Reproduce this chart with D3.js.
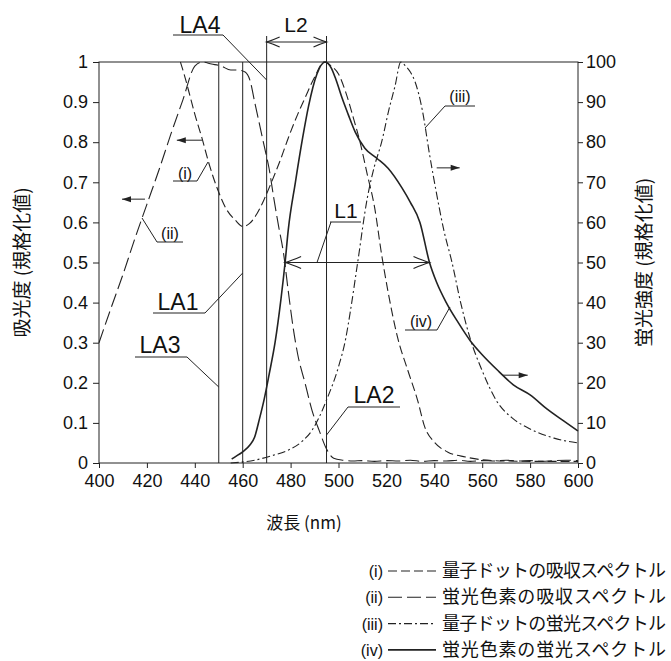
<!DOCTYPE html>
<html><head><meta charset="utf-8">
<script src="https://cdn.jsdelivr.net/npm/d3@7/dist/d3.min.js"></script>
<style>body{margin:0;background:#fff}svg{display:block}</style>
</head><body>
<svg id="c" width="671" height="661"></svg>
<script>
// ---------- data ----------
const xTicks = [400,420,440,460,480,500,520,540,560,580,600];
const yLeftTicks = [0,0.1,0.2,0.3,0.4,0.5,0.6,0.7,0.8,0.9,1];
const yRightTicks = [0,10,20,30,40,50,60,70,80,90,100];

// (i) quantum-dot absorption (left axis)
const wlQdAbs = [434,436,438,440,443,446,450,453,457,460,463,466,469,472,476,479,483,486,490,494,497,500,503,506,509,512,515,518,520.6,524.8,529,533,536,540,545.7,553,560,570,585,600];
const qdAbs   = [1.0,0.96,0.915,0.87,0.81,0.745,0.675,0.635,0.605,0.59,0.598,0.622,0.658,0.70,0.76,0.81,0.87,0.91,0.962,1.0,0.99,0.97,0.925,0.865,0.80,0.72,0.64,0.52,0.43,0.31,0.23,0.157,0.09,0.052,0.027,0.015,0.008,0.005,0.004,0.004];

// (ii) fluorescent dye absorption (left axis)
const wlDyeAbs = [400,405,410,415,420,425,430,435,440,443,447,451,455,458,461,463,465,467,469,471,473,475,477,479,481,483,486,489,492,495,498,502,506,510,515,520,525,530,535,540,545,550,555,560,565,570,575,580,585,590,595,600];
const dyeAbs   = [0.30,0.386,0.47,0.56,0.645,0.73,0.82,0.905,0.99,1.0,0.995,0.99,0.98,0.98,0.975,0.955,0.90,0.845,0.79,0.735,0.66,0.59,0.525,0.43,0.34,0.27,0.20,0.13,0.08,0.035,0.012,0.007,0.005,0.006,0.004,0.006,0.005,0.007,0.004,0.006,0.005,0.007,0.004,0.006,0.005,0.007,0.005,0.006,0.004,0.006,0.007,0.006];

// (iii) quantum-dot fluorescence (right axis)
const wlQdFl = [455,465,472,479,485,489,492,495,500,503,505,508,512,515,518,521,523.6,526,528,530,532,535,538,541,544,547.4,551,555,560,566,573,580,590,600];
const qdFl   = [0,0.7,1.8,3.2,5.5,8.2,11.5,15.7,24,31,38,50,66,74,80,88,94,100,99,97.5,95,88,77,67,58,50,40,31,23,15.5,11,8.5,6.2,5];

// (iv) fluorescent dye fluorescence (right axis)
const wlDyeFl = [455.4,457,460,463,465,467,469,471,473.5,476,477.7,479,482,485,487.5,491,494.4,497,499,501.5,504,507,511,516,520.7,526.5,530,534,538,541,545,550,555,560,567,573,580,587,594,600];
const dyeFl   = [1,1.6,2.8,4.5,6.5,11,16,22,30,41,50,58,70,81,89,97,100,98.5,95.5,91,87,82.5,78.5,76,73.5,68.6,65,60,50,45,40,35,30.5,27,22.8,19.5,17,13.5,10.5,8];

// marker wavelengths and labels
const markerWl = [450,460,470,495];
const markerNames = ["LA3","LA1","LA4","LA2"];
const L1Range = [477.7,538];
const L2Range = [470,495];

const legendKeys = ["(i)","(ii)","(iii)","(iv)"];
const legendTexts = ["量子ドットの吸収スペクトル","蛍光色素の吸収スペクトル","量子ドットの蛍光スペクトル","蛍光色素の蛍光スペクトル"];
const dashes = ["9,4","14,5","8,3,2,3",null];

// ---------- drawing ----------
const svg = d3.select("#c");
const ink = "#222";
const numFont = "'Liberation Sans', Arial, sans-serif";
const jpFont = "'Noto Sans CJK JP', 'Noto Sans', sans-serif";

const x = d3.scaleLinear().domain([400,600]).range([99,578]);
const yL = d3.scaleLinear().domain([0,1]).range([463,62]);
const yR = d3.scaleLinear().domain([0,100]).range([463,62]);

// frame
svg.append("rect").attr("x",x(400)).attr("y",yL(1)).attr("width",x(600)-x(400)).attr("height",yL(0)-yL(1))
  .attr("fill","none").attr("stroke",ink).attr("stroke-width",1);

function styleAxis(g){
  g.select(".domain").remove();
  g.selectAll("line").attr("stroke",ink);
  g.selectAll("text").attr("font-family",numFont).attr("font-size",18).attr("fill","#111");
}
svg.append("g").attr("transform",`translate(${x(400)},0)`)
  .call(d3.axisLeft(yL).tickValues(yLeftTicks).tickSize(6).tickPadding(5).tickFormat(d=>d3.format("")(+d.toFixed(1))))
  .call(styleAxis);
svg.append("g").attr("transform",`translate(${x(600)},0)`)
  .call(d3.axisRight(yR).tickValues(yRightTicks).tickSize(5).tickPadding(3))
  .call(styleAxis);
svg.append("g").attr("transform",`translate(0,${yL(0)})`)
  .call(d3.axisBottom(x).tickValues(xTicks).tickSize(5).tickPadding(6))
  .call(styleAxis);

// axis titles
svg.append("text").attr("transform",`translate(29,${(yL(0)+yL(1))/2}) rotate(-90)`)
  .attr("text-anchor","middle").attr("font-family",jpFont).attr("font-size",19).attr("fill","#111").text("吸光度 (規格化値)");
svg.append("text").attr("transform",`translate(651,${(yL(0)+yL(1))/2}) rotate(-90)`)
  .attr("text-anchor","middle").attr("font-family",jpFont).attr("font-size",19).attr("fill","#111").text("蛍光強度 (規格化値)");
svg.append("text").attr("x",304).attr("y",529).attr("text-anchor","middle")
  .attr("font-family",jpFont).attr("font-size",17).attr("fill","#111").text("波長 (nm)");

// marker vertical lines
markerWl.forEach((w,i)=>{
  const top = (w===L2Range[0]||w===L2Range[1]) ? 36 : yL(1);
  svg.append("line").attr("x1",x(w)).attr("x2",x(w)).attr("y1",top).attr("y2",yL(0))
    .attr("stroke",ink).attr("stroke-width",1);
});

// curves
const zip = (a,b)=>a.map((v,i)=>[v,b[i]]);
const lineL = d3.line().x(d=>x(d[0])).y(d=>yL(d[1])).curve(d3.curveMonotoneX);
const lineR = d3.line().x(d=>x(d[0])).y(d=>yR(d[1])).curve(d3.curveMonotoneX);
const series = [
  {d:lineL(zip(wlQdAbs,qdAbs)), dash:dashes[0], w:1.1},
  {d:lineL(zip(wlDyeAbs,dyeAbs)), dash:dashes[1], w:1.1},
  {d:lineR(zip(wlQdFl,qdFl)), dash:dashes[2], w:1.1},
  {d:lineR(zip(wlDyeFl,dyeFl)), dash:dashes[3], w:1.6},
];
series.forEach(s=>{
  svg.append("path").attr("d",s.d).attr("fill","none").attr("stroke",ink)
    .attr("stroke-width",s.w).attr("stroke-dasharray",s.dash);
});

// helpers
function seg(x1,y1,x2,y2,w){svg.append("line").attr("x1",x1).attr("y1",y1).attr("x2",x2).attr("y2",y2).attr("stroke",ink).attr("stroke-width",w||1);}
function openHead(xt,yt,dir,len,half){
  svg.append("path").attr("d",`M${xt-dir*len},${yt-half} Q${xt-dir*len*0.4},${yt-half*0.3} ${xt},${yt} Q${xt-dir*len*0.4},${yt+half*0.3} ${xt-dir*len},${yt+half}`)
    .attr("fill","none").attr("stroke",ink).attr("stroke-width",1.2);
}
function pointer(x1,x2,y){
  seg(x1,y,x2,y,1);
  const d = Math.sign(x2-x1);
  svg.append("path").attr("d",`M${x2},${y} L${x2-d*9},${y-3} L${x2-d*9},${y+3} Z`).attr("fill",ink);
}
function label(txt,xx,yy,size){svg.append("text").attr("x",xx).attr("y",yy).attr("text-anchor","middle")
  .attr("font-family",numFont).attr("font-size",size).attr("fill","#111").text(txt);}

// L2 arrow
const yL2 = 42;
seg(x(L2Range[0]),yL2,x(L2Range[1]),yL2,1);
openHead(x(L2Range[0]),yL2,-1,13,5);
openHead(x(L2Range[1]),yL2,1,13,5);
label("L2",296,32,21);

// L1 arrow
const yL1 = yL(0.5);
seg(x(L1Range[0]),yL1,x(L1Range[1]),yL1,1);
openHead(x(L1Range[0]),yL1,-1,16,6);
openHead(x(L1Range[1]),yL1,1,16,6);
label("L1",346,218,21);
seg(330,222,361,222); seg(331,222,317,yL1);

// LA labels with leaders
label("LA4",200,33,23); seg(173,35,223,35); seg(223,35,x(470),80);
label("LA1",178,310,23); seg(153,313,205,313); seg(205,313,x(460),273);
label("LA3",160,353,23); seg(135,357,187,357); seg(187,357,x(450),387);
label("LA2",374,403,23); seg(348,407,400,407); seg(348,407,x(495),435);

// series labels with leaders
label("(i)",185,179,16); seg(173,181,197,181); seg(197,181,208,162);
label("(ii)",170,239,16); seg(157,242,183,242); seg(157,242,142,218);
label("(iii)",460,102,16); seg(445,106,475,106); seg(445,106,425,128);
label("(iv)",421,327,16); seg(405,330,437,330); seg(437,330,450,307);

// axis pointer arrows
pointer(x(443),x(432.5),yL(0.805));
pointer(x(419.2),x(409.6),yL(0.658));
pointer(x(541),x(550.6),yR(73.6));
pointer(x(568.6),x(579),yR(21.9));

// legend
const legY0 = 571, legDy = 26.3;
legendKeys.forEach((k,i)=>{
  const yy = legY0 + i*legDy;
  svg.append("text").attr("x",383).attr("y",yy+6).attr("text-anchor","end")
    .attr("font-family",numFont).attr("font-size",16).attr("fill","#111").text(k);
  svg.append("line").attr("x1",388).attr("x2",436).attr("y1",yy).attr("y2",yy)
    .attr("stroke",ink).attr("stroke-width",i===3?1.6:1.1).attr("stroke-dasharray",dashes[i]);
  svg.append("text").attr("x",442).attr("y",yy+6).attr("font-family",jpFont).attr("font-size",18)
    .attr("fill","#111").attr("textLength",224).attr("lengthAdjust","spacing").text(legendTexts[i]);
});
</script>
</body></html>
